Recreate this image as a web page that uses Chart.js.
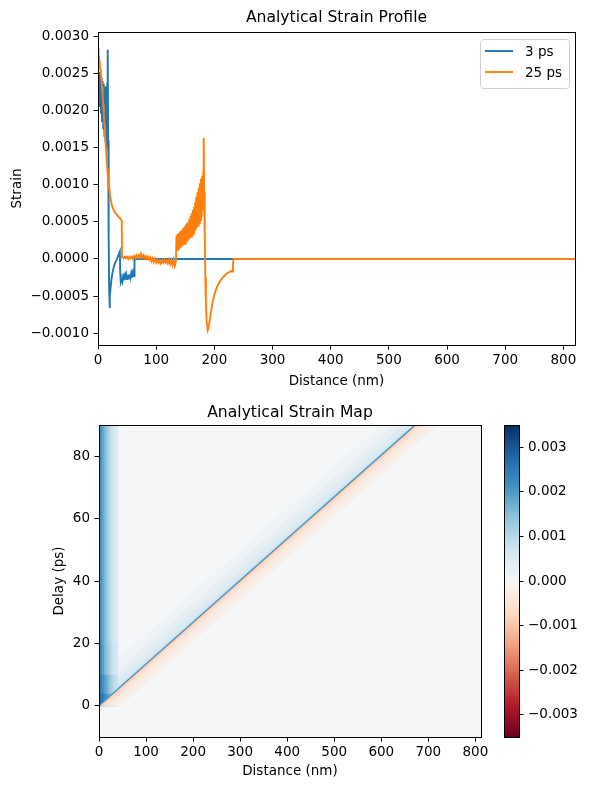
<!DOCTYPE html>
<html><head><meta charset="utf-8">
<script src="https://cdn.jsdelivr.net/npm/chart.js@4.4.1/dist/chart.umd.min.js"></script>
<style>
html,body{margin:0;padding:0;background:#fff;}
#wrap{position:relative;width:589px;height:790px;overflow:hidden;background:#fff;}
canvas{position:absolute;}
</style></head><body>
<div id="wrap">
<canvas id="profile" width="589" height="390" style="left:0;top:0;width:589px;height:390px"></canvas>
<canvas id="map" width="589" height="400" style="left:0;top:390px;width:589px;height:400px"></canvas>
<canvas id="cbar" width="109" height="400" style="left:480px;top:390px;width:109px;height:400px"></canvas>
</div>
<script>
// ================= DATA =================
const profileLabels = ['3 ps', '25 ps'];

const distance3ps = [0,1,2,3,4,5,6,7,8,9,10,11,12,13,14,15,16,
  16.4,16.9,17.5,18.3,19.2,19.9,20.6,21.5,
  23,25,27,29,31,33,35,37.5,
  38.3,39.2,
  40,41,42,43,44,45,46,47,48,49,50,51,52,53,54,55,56,57,58,59,60,61,62,
  62.8,820];
const strain3ps = [0.00250,0.00210,0.00252,0.00205,0.00246,0.00196,0.00244,0.00186,0.00240,0.00176,0.00236,0.00166,0.00232,0.00158,0.00233,0.00150,0.00238,
  0.00150,0.00282,0.00160,0.00030,-0.00040,-0.00066,-0.00050,-0.00040,
  -0.00028,-0.00018,-0.00011,-0.00006,-0.00003,0.00001,0.00005,0.00010,
  -0.00020,-0.00031,
  -0.00029,-0.00026,-0.00030,-0.00025,-0.00029,-0.00024,-0.00028,-0.00023,-0.00027,-0.00022,-0.00027,-0.00022,-0.00026,-0.00021,-0.00026,-0.00021,-0.00025,-0.00020,-0.00025,-0.00020,-0.00024,-0.00019,-0.00023,
  0,0];

const distance25ps = [0,1,2,3,4,5,6,7,8,9,10,11,12,13,14,15,16,17,18,19,20,
  22,24,26,28,30,32,34,36,38,40.8,41.3,
  42,44,46,48,50,52,54,56,58,60,62,64,66,68,70,72,74,76,78,80,
  82,84,86,88,90,92,94,96,98,100,102,104,106,108,110,112,114,116,118,120,
  122,124,126,128,130,132,134,
  135,136,137,138,139,140,141,142,143,144,145,146,147,148,149,150,151,152,153,154,
  155,156,157,158,159,160,161,162,163,164,165,166,167,168,169,170,171,172,173,174,
  175,176,177,178,179,180,181,
  181.7,182.5,183.5,184.5,185.5,186.8,188.6,190,192,194.5,197.5,201,205,209,213,217,221,225,229,231,232,233,820];
const strain25ps = [0.00285,0.00276,0.00268,0.00262,0.00256,0.00250,0.00242,0.00232,0.00220,0.00208,0.00195,0.00181,0.00168,0.00156,0.00145,0.00133,0.00122,0.00111,0.00102,0.00095,0.00089,
  0.00080,0.00072,0.00068,0.00064,0.00062,0.00060,0.00058,0.00056,0.00055,0.00052,0.00002,
  0.00003,0.00001,0.00003,0.00001,0.00003,0.00000,0.00003,0.00001,0.00003,0.00000,0.00004,0.00001,0.00005,0.00001,0.00005,0.00002,0.00007,0.00002,0.00005,0.00001,
  0.00004,0.00000,0.00003,-0.00001,0.00002,-0.00003,0.00001,-0.00004,0.00000,-0.00005,-0.00001,-0.00005,-0.00002,-0.00006,-0.00002,-0.00005,-0.00001,-0.00005,-0.00002,-0.00006,
  -0.00001,-0.00007,-0.00002,-0.00008,-0.00001,-0.00009,-0.00002,
  0.00032,0.00012,0.00034,0.00013,0.00035,0.00014,0.00037,0.00015,0.00038,0.00017,0.00040,0.00018,0.00042,0.00020,0.00044,0.00021,0.00046,0.00023,0.00048,0.00024,
  0.00050,0.00026,0.00054,0.00028,0.00058,0.00030,0.00062,0.00032,0.00066,0.00034,0.00070,0.00036,0.00076,0.00039,0.00084,0.00042,0.00090,0.00045,0.00096,0.00048,
  0.00102,0.00052,0.00108,0.00056,0.00112,0.00065,0.00118,
  0.00163,0.00090,0.00030,-0.00025,-0.00060,-0.00085,-0.00096,-0.00093,-0.00083,-0.00070,-0.00056,-0.00045,-0.00037,-0.00031,-0.00026,-0.00023,-0.00020,-0.00018,-0.00016,-0.00017,-0.00008,0,0];

const profileXTicks = [0,100,200,300,400,500,600,700,800];
const profileYTicks = [-0.0010,-0.0005,0.0000,0.0005,0.0010,0.0015,0.0020,0.0025,0.0030];
const profileXRange = [0, 820];
const profileYRange = [-0.00116, 0.00306];

// strain map (distance in nm, delay in ps)
const mapXTicks = [0,100,200,300,400,500,600,700,800];
const mapYTicks = [0,20,40,60,80];
const mapDistanceRange = [0, 812];
const mapDelayRange = [-10, 90];
const mapBaselineStrain = 0.00003;
const frontDelay = [0, 90];
const frontPosition = [0, 672];
const frontLineStrain = 0.0021;
const behindOffsets = [-70, -45, -25, -12, -4, 0];
const behindStrain = [0.00015, 0.0003, 0.00045, 0.0006, 0.0009];
const aheadOffsets = [0, 4, 10, 20, 32, 46];
const aheadStrain = [-0.0011, -0.0008, -0.0005, -0.0003, -0.0002];
const leftBandEdges = [0, 4, 8, 12, 16, 20, 24, 28, 32, 36, 40];
const leftBandDelayEdges = [0, 4, 10, 20, 90];
const leftBandStrain = [
  [0.0028, 0.0026, 0.0024, 0.0022, 0.0020, 0.0018, 0.0016, 0.0014, 0.0012, 0.0010],
  [0.0027, 0.0024, 0.0021, 0.0019, 0.0017, 0.0015, 0.0013, 0.0011, 0.0009, 0.0008],
  [0.0026, 0.0022, 0.0019, 0.0016, 0.0014, 0.0012, 0.0010, 0.0008, 0.0007, 0.0006],
  [0.0025, 0.0021, 0.0018, 0.00155, 0.0013, 0.0011, 0.0009, 0.00075, 0.0006, 0.0005]
];

// colorbar
const cbarRange = [-0.0035, 0.0035];
const cbarTicks = [-0.003,-0.002,-0.001,0,0.001,0.002,0.003];

// ================= HELPERS =================
const FS = 13.5;
Chart.defaults.font.family = "'DejaVu Sans', 'Liberation Sans', sans-serif";
Chart.defaults.font.size = FS;
Chart.defaults.color = '#000';

const RDBU = ['#67001f','#b2182b','#d6604d','#f4a582','#fddbc7','#f7f7f7','#d1e5f0','#92c5de','#4393c3','#2166ac','#053061'];
const RDBU_RGB = RDBU.map(h => [parseInt(h.slice(1,3),16), parseInt(h.slice(3,5),16), parseInt(h.slice(5,7),16)]);
function cmap(v){
  let t = (v - cbarRange[0]) / (cbarRange[1] - cbarRange[0]);
  t = Math.max(0, Math.min(1, t));
  const p = t * 10, i = Math.min(9, Math.floor(p)), f = p - i;
  const a = RDBU_RGB[i], b = RDBU_RGB[i+1];
  return 'rgb(' + [0,1,2].map(k => Math.round(a[k] + (b[k]-a[k])*f)).join(',') + ')';
}
const minus = s => s.replace('-', '\u2212');
const fixedTicks = values => scale => { scale.ticks = values.map(v => ({value: v})); };
const tickGrid = () => ({display:true, drawOnChartArea:false, drawTicks:true, tickLength:4.5, tickWidth:1, tickColor:'#000', color:'#000'});

const framePlugin = {
  id: 'frame',
  afterDraw(chart){
    const a = chart.chartArea, ctx = chart.ctx;
    const L = Math.round(a.left), T = Math.round(a.top), R = Math.round(a.right), B = Math.round(a.bottom);
    ctx.save(); ctx.strokeStyle = '#000'; ctx.lineWidth = 1;
    ctx.strokeRect(L + 0.5, T + 0.5, R - L, B - T);
    ctx.restore();
  }
};

const legendPlugin = {
  id: 'inlegend',
  afterDraw(chart){
    const {ctx, chartArea: a} = chart;
    const w = 89, h = 49, x = a.right - 6 - w, y = a.top + 7;
    ctx.save();
    ctx.beginPath();
    ctx.roundRect(x + 0.5, y + 0.5, w, h, 3);
    ctx.fillStyle = 'rgba(255,255,255,0.8)'; ctx.fill();
    ctx.strokeStyle = '#d0d0d0'; ctx.lineWidth = 1; ctx.stroke();
    chart.data.datasets.forEach((ds, i) => {
      const cy = y + 12 + i * 21;
      ctx.strokeStyle = ds.borderColor; ctx.lineWidth = ds.borderWidth;
      ctx.beginPath(); ctx.moveTo(x + 5, cy); ctx.lineTo(x + 33, cy); ctx.stroke();
      ctx.fillStyle = '#000'; ctx.font = FS + "px 'DejaVu Sans'"; ctx.textBaseline = 'middle'; ctx.textAlign = 'left';
      ctx.fillText(ds.label, x + 45, cy + 1);
    });
    ctx.restore();
  }
};

const toXY = (xs, ys) => xs.map((x, i) => ({x: x, y: ys[i]}));

// ================= PROFILE CHART =================
new Chart(document.getElementById('profile'), {
  type: 'line',
  data: { datasets: [
    {label: profileLabels[0], data: toXY(distance3ps, strain3ps), borderColor:'#1f77b4', borderWidth:1.9, pointRadius:0, tension:0, fill:false, order:2},
    {label: profileLabels[1], data: toXY(distance25ps, strain25ps), borderColor:'#ff7f0e', borderWidth:1.9, pointRadius:0, tension:0, fill:false, order:1}
  ]},
  options: {
    responsive:false, animation:false, devicePixelRatio:1, events:[],
    layout:{padding:{left:0, right:14, top:0, bottom:0}},
    plugins:{
      legend:{display:false}, tooltip:{enabled:false},
      title:{display:true, fullSize:false, text:'Analytical Strain Profile', color:'#000', font:{size:15.6, weight:'normal'}, padding:{top:9, bottom:4.3}}
    },
    scales:{
      x:{type:'linear', min:profileXRange[0], max:profileXRange[1],
         afterBuildTicks: fixedTicks(profileXTicks), afterFit: s => { s.height = 45; },
         ticks:{color:'#000', padding:3, maxRotation:0, autoSkip:false, callback: v => String(v)},
         grid: tickGrid(), border:{display:true, color:'#000', width:1},
         title:{display:true, text:'Distance (nm)', color:'#000', font:{size:FS}, padding:{top:0, bottom:0.3}}},
      y:{type:'linear', min:profileYRange[0], max:profileYRange[1],
         afterBuildTicks: fixedTicks(profileYTicks), afterFit: s => { s.width = 98; },
         ticks:{color:'#000', padding:4.5, autoSkip:false, callback: v => minus(v.toFixed(4))},
         grid: tickGrid(), border:{display:true, color:'#000', width:1},
         title:{display:true, text:'Strain', color:'#000', font:{size:FS}, padding:{top:9.4, bottom:0}}}
    }
  },
  plugins:[framePlugin, legendPlugin]
});

// ================= STRAIN MAP =================
const mapDatasets = [];
function addPoly(pts, strain){
  const c = cmap(strain);
  mapDatasets.push({data: pts.concat([pts[0]]).map(p => ({x:p[0], y:p[1]})), fill:'shape',
    backgroundColor:c, borderColor:c, borderWidth:0.8, pointRadius:0, tension:0, clip:0});
}
addPoly([[mapDistanceRange[0], mapDelayRange[0]], [mapDistanceRange[1], mapDelayRange[0]],
         [mapDistanceRange[1], mapDelayRange[1]], [mapDistanceRange[0], mapDelayRange[1]]], mapBaselineStrain);
function addFrontBand(offsets, strains){
  for (let i = 0; i < strains.length; i++){
    const o0 = offsets[i], o1 = offsets[i+1];
    addPoly([[frontPosition[0]+o0, frontDelay[0]], [frontPosition[0]+o1, frontDelay[0]],
             [frontPosition[1]+o1, frontDelay[1]], [frontPosition[1]+o0, frontDelay[1]]], strains[i]);
  }
}
addFrontBand(behindOffsets, behindStrain);
for (let r = 0; r < leftBandStrain.length; r++){
  for (let c = 0; c < leftBandStrain[r].length; c++){
    addPoly([[leftBandEdges[c], leftBandDelayEdges[r]], [leftBandEdges[c+1], leftBandDelayEdges[r]],
             [leftBandEdges[c+1], leftBandDelayEdges[r+1]], [leftBandEdges[c], leftBandDelayEdges[r+1]]], leftBandStrain[r][c]);
  }
}
addFrontBand(aheadOffsets, aheadStrain);
mapDatasets.push({data:[{x:frontPosition[0], y:frontDelay[0]}, {x:frontPosition[1], y:frontDelay[1]}],
  borderColor: cmap(frontLineStrain), borderWidth:1.3, fill:false, pointRadius:0, tension:0, clip:0});
mapDatasets.forEach((d, i) => { d.order = mapDatasets.length - i; });

new Chart(document.getElementById('map'), {
  type: 'line',
  data: { datasets: mapDatasets },
  options: {
    responsive:false, animation:false, devicePixelRatio:1, events:[],
    layout:{padding:{left:0, right:108, top:0, bottom:0}},
    plugins:{
      legend:{display:false}, tooltip:{enabled:false},
      title:{display:true, fullSize:false, text:'Analytical Strain Map', color:'#000', font:{size:15.6, weight:'normal'}, padding:{top:13.1, bottom:3.2}}
    },
    scales:{
      x:{type:'linear', min:mapDistanceRange[0], max:mapDistanceRange[1],
         afterBuildTicks: fixedTicks(mapXTicks), afterFit: s => { s.height = 53; },
         ticks:{color:'#000', padding:3, maxRotation:0, autoSkip:false, callback: v => String(v)},
         grid: tickGrid(), border:{display:true, color:'#000', width:1},
         title:{display:true, text:'Distance (nm)', color:'#000', font:{size:FS}, padding:{top:0, bottom:10.3}}},
      y:{type:'linear', min:mapDelayRange[0], max:mapDelayRange[1],
         afterBuildTicks: fixedTicks(mapYTicks), afterFit: s => { s.width = 99; },
         ticks:{color:'#000', padding:4.5, autoSkip:false, callback: v => String(v)},
         grid: tickGrid(), border:{display:true, color:'#000', width:1},
         title:{display:true, text:'Delay (ps)', color:'#000', font:{size:FS}, padding:{top:51.5, bottom:0}}}
    }
  },
  plugins:[framePlugin]
});

// ================= COLORBAR =================
new Chart(document.getElementById('cbar'), {
  type: 'bar',
  data: { labels:[''], datasets:[{
    data:[[cbarRange[0], cbarRange[1]]], borderWidth:0, barPercentage:1, categoryPercentage:1,
    backgroundColor: c => {
      const ch = c.chart;
      if (!ch.chartArea) return cmap(0);
      const ys = ch.scales.y;
      const g = ch.ctx.createLinearGradient(0, ys.getPixelForValue(cbarRange[0]), 0, ys.getPixelForValue(cbarRange[1]));
      RDBU.forEach((col, i) => g.addColorStop(i / (RDBU.length - 1), col));
      return g;
    }
  }]},
  options: {
    responsive:false, animation:false, devicePixelRatio:1, events:[],
    layout:{padding:{left:24, right:0, top:35, bottom:53}},
    plugins:{legend:{display:false}, tooltip:{enabled:false}, title:{display:false}},
    scales:{
      x:{display:false},
      y:{type:'linear', position:'right', min:cbarRange[0], max:cbarRange[1],
         afterBuildTicks: fixedTicks(cbarTicks), afterFit: s => { s.width = 70; },
         ticks:{color:'#000', padding:4.5, autoSkip:false, callback: v => minus(v.toFixed(3))},
         grid: tickGrid(), border:{display:false}}
    }
  },
  plugins:[framePlugin]
});
</script>
</body></html>
